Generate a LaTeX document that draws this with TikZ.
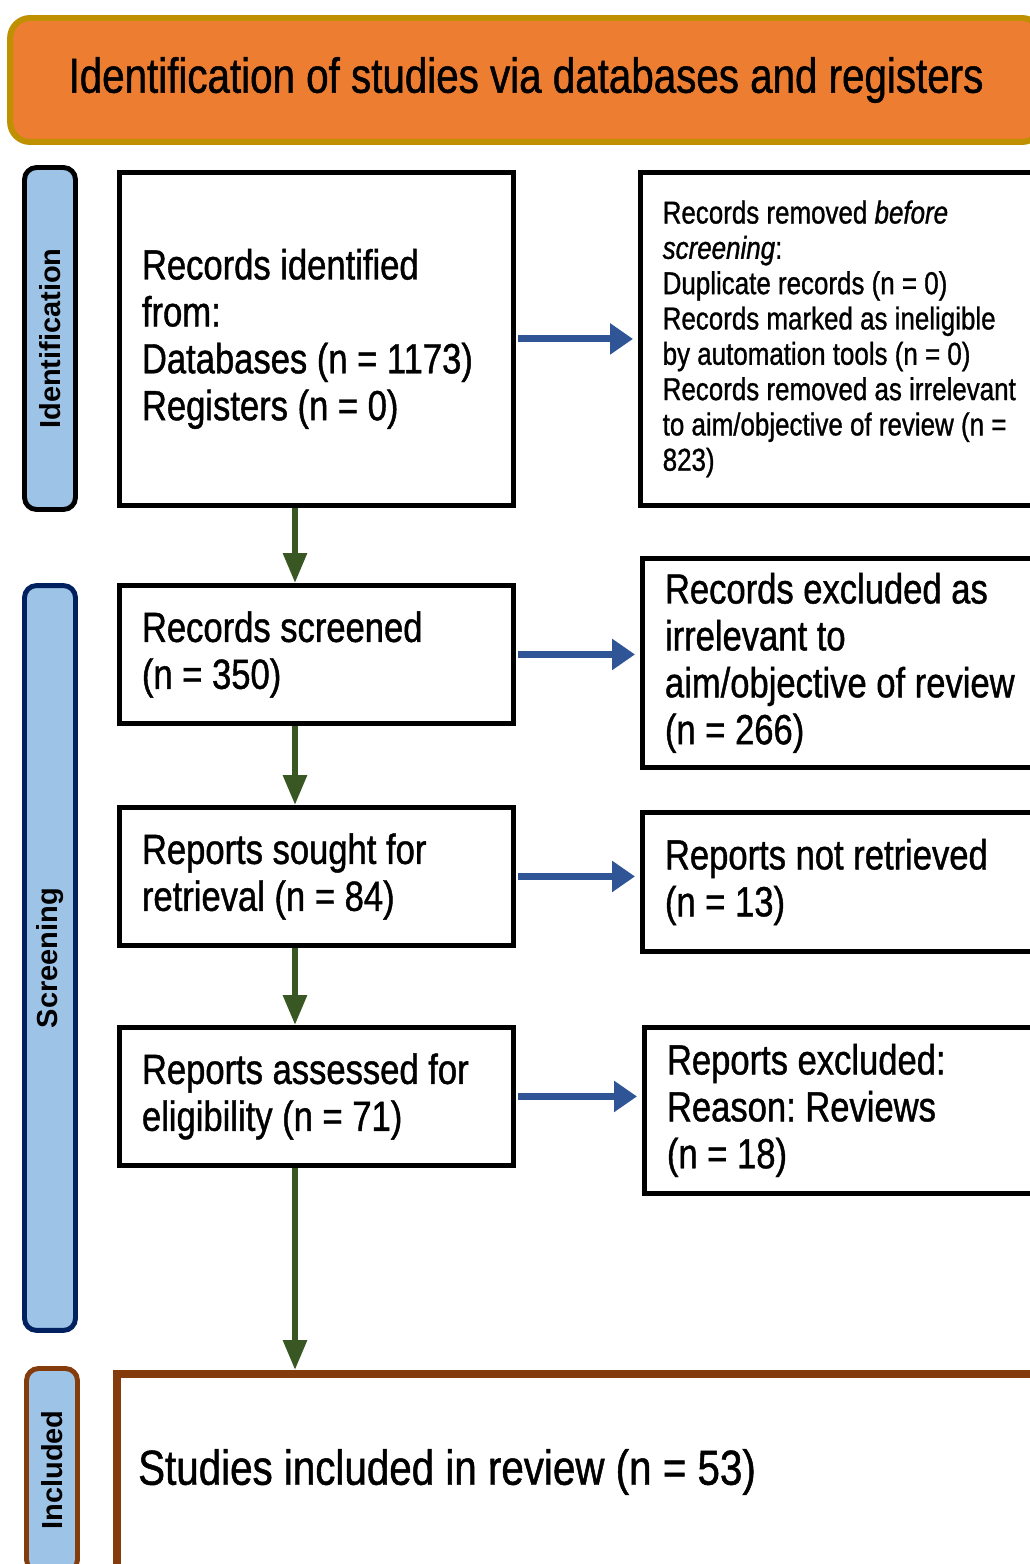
\documentclass[tikz,border=0pt]{standalone}
\usepackage{fontspec}
\setmainfont{Liberation Sans}[FakeStretch=0.82, FakeBold=1]
\newfontfamily\sidefont{Liberation Sans}
\usetikzlibrary{arrows.meta}
\definecolor{bannerfill}{HTML}{ED7D31}
\definecolor{bannerline}{HTML}{BF9000}
\definecolor{barfill}{HTML}{9DC3E6}
\definecolor{navy}{HTML}{002060}
\definecolor{rust}{HTML}{843C0C}
\definecolor{flowblue}{HTML}{2F5597}
\definecolor{flowgreen}{HTML}{385723}
\frenchspacing
\begin{document}
\begin{tikzpicture}[x=0.02cm, y=-0.02cm,
  stagebox/.style={draw, line width=2.8pt, anchor=north west, align=flush left,
    inner xsep=0.45cm, font=\fontsize{24}{26.7}\selectfont,
    execute at begin node={\spaceskip=0pt \xspaceskip=0pt}},
  sidebar/.style={draw=#1, line width=2.8pt, fill=barfill, rounded corners=0.24cm,
    rotate=90, minimum height=1.02cm, font=\sidefont\bfseries\fontsize{16.5}{19}\selectfont},
  flowright/.style={flowblue, line width=4pt, -{Triangle[length=0.46cm, width=0.6cm]},
    shorten <=0.04cm, shorten >=0.1cm},
  flowdown/.style={flowgreen, line width=3.4pt, -{Triangle[length=0.6cm, width=0.46cm]}}]
  \useasboundingbox (0,0) rectangle (1030,1564);
  \clip (0,0) rectangle (1030,1564);

  \node[draw=bannerline, fill=bannerfill, line width=3.4pt, rounded corners=0.4cm,
    minimum width=20.64cm, minimum height=2.48cm,
    font=\fontsize{28}{32}\selectfont] (banner) at (526,80)
    {Identification of studies via databases and registers};

  \node[sidebar=black, minimum width=6.84cm] (identbar) at (50,338.5) {Identification};
  \node[sidebar=navy, minimum width=14.9cm] (screenbar) at (50,958) {Screening};
  \node[sidebar=rust, minimum width=4.06cm] (inclbar) at (52,1470) {Included};

  \node[stagebox, minimum width=7.88cm, minimum height=6.66cm, text width=6.98cm] (rec) at (117,170)
    {Records identified\\ from:\\ Databases (n = 1173)\\ Registers (n = 0)};
  \node[stagebox, minimum width=8.39cm, minimum height=6.66cm, text width=7.5cm,
    inner xsep=0.43cm, font=\fontsize{18}{20.1}\selectfont] (rem) at (638,170)
    {Records removed \textit{before}\\ \textit{screening}:\\ Duplicate records (n = 0)\\
     Records marked as ineligible\\ by automation tools (n = 0)\\
     Records removed as irrelevant\\ to aim/objective of review (n =\\ 823)};

  \node[stagebox, minimum width=7.88cm, minimum height=2.76cm, text width=6.98cm] (scr) at (117,583)
    {Records screened\\ (n = 350)};
  \node[stagebox, minimum width=8.35cm, minimum height=4.18cm, text width=7.5cm] (exc) at (640,556)
    {Records excluded as\\ irrelevant to\\ aim/objective of review\\ (n = 266)};

  \node[stagebox, minimum width=7.88cm, minimum height=2.76cm, text width=6.98cm] (sought) at (117,805)
    {Reports sought for\\ retrieval (n = 84)};
  \node[stagebox, minimum width=8.35cm, minimum height=2.78cm, text width=7.5cm] (notret) at (640,810)
    {Reports not retrieved\\ (n = 13)};

  \node[stagebox, minimum width=7.88cm, minimum height=2.76cm, text width=6.98cm] (assess) at (117,1025)
    {Reports assessed for\\ eligibility (n = 71)};
  \node[stagebox, minimum width=8.31cm, minimum height=3.32cm, text width=7.5cm] (repexc) at (642,1025)
    {Reports excluded:\\ Reason: Reviews\\ (n = 18)};

  \node[draw=rust, line width=4.5pt, anchor=north west, minimum width=18.8cm,
    minimum height=4.8cm] (incl) at (113,1370) {};
  \node[anchor=west, font=\fontsize{28}{32}\selectfont] (incltxt) at (132,1472)
    {Studies included in review (n = 53)};

  \coordinate (gx) at (295,0);
  \draw[flowdown] (rec.south -| gx) -- (scr.north -| gx);
  \draw[flowdown] (scr.south -| gx) -- (sought.north -| gx);
  \draw[flowdown] (sought.south -| gx) -- (assess.north -| gx);
  \draw[flowdown] (assess.south -| gx) -- (incl.north -| gx);

  \draw[flowright] (rec.east) -- (rec.east -| rem.west);
  \draw[flowright] (scr.east) -- (scr.east -| exc.west);
  \draw[flowright] (sought.east) -- (sought.east -| notret.west);
  \draw[flowright] (assess.east) -- (assess.east -| repexc.west);
\end{tikzpicture}
\end{document}
